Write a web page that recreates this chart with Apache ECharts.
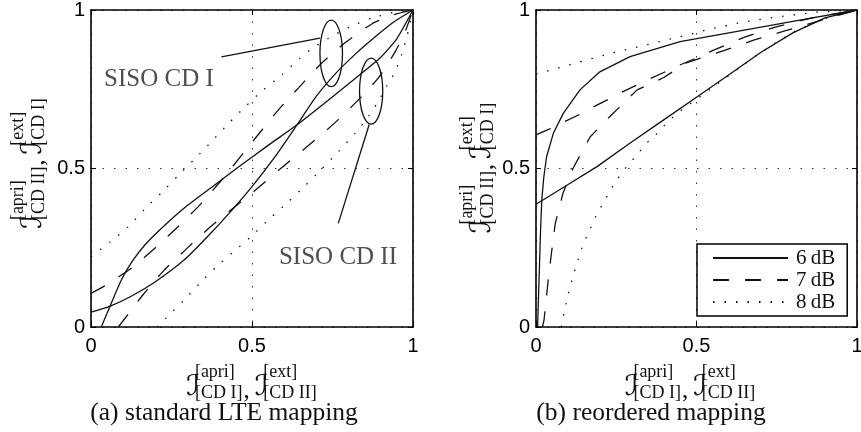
<!DOCTYPE html>
<html>
<head>
<meta charset="utf-8">
<script src="https://cdn.jsdelivr.net/npm/echarts@6/dist/echarts.min.js"></script>
<style>
  html, body { margin: 0; padding: 0; background: #fff; }
  #main { width: 861px; height: 432px; }
</style>
</head>
<body>
<div id="main"></div>
<script>
// legend entries (one line style per SNR)
const snrLabels = ['6\u2009dB', '7\u2009dB', '8\u2009dB'];

// (a) standard LTE mapping
// CD I curves: [I_apri CD I, I_ext CD I]
const stdCd1Db6 = [[0, 0.047], [0.06, 0.066], [0.125, 0.097], [0.2, 0.143], [0.29, 0.212], [0.36, 0.283], [0.43, 0.36], [0.5, 0.443], [0.57, 0.535], [0.64, 0.638], [0.7, 0.728], [0.76, 0.8], [0.82, 0.86], [0.88, 0.913], [0.94, 0.962], [1, 1]];
const stdCd1Db7 = [[0, 0.106], [0.04, 0.128], [0.125, 0.185], [0.2, 0.25], [0.27, 0.316], [0.336, 0.383], [0.41, 0.469], [0.517, 0.604], [0.582, 0.685], [0.646, 0.756], [0.716, 0.832], [0.791, 0.898], [0.872, 0.956], [0.94, 0.985], [1, 1]];
const stdCd1Db8 = [[0, 0.222], [0.058, 0.267], [0.115, 0.316], [0.167, 0.372], [0.22, 0.425], [0.27, 0.477], [0.324, 0.532], [0.376, 0.587], [0.428, 0.643], [0.479, 0.695], [0.535, 0.748], [0.592, 0.795], [0.649, 0.848], [0.68, 0.874], [0.738, 0.911], [0.804, 0.947], [0.872, 0.974], [0.949, 0.995], [1, 1]];
// CD II curves, axes swapped: [I_ext CD II, I_apri CD II]
const stdCd2Db6 = [[0.032, 0], [0.06, 0.068], [0.095, 0.15], [0.13, 0.21], [0.17, 0.262], [0.23, 0.322], [0.3, 0.384], [0.38, 0.445], [0.46, 0.506], [0.55, 0.573], [0.64, 0.638], [0.73, 0.71], [0.83, 0.792], [0.9, 0.851], [0.95, 0.91], [1, 1]];
const stdCd2Db7 = [[0.085, 0], [0.161, 0.101], [0.226, 0.178], [0.298, 0.248], [0.371, 0.316], [0.448, 0.38], [0.52, 0.44], [0.595, 0.505], [0.677, 0.574], [0.753, 0.64], [0.825, 0.711], [0.892, 0.785], [0.944, 0.867], [0.975, 0.93], [1, 1]];
const stdCd2Db8 = [[0.205, 0], [0.234, 0.029], [0.286, 0.082], [0.338, 0.138], [0.389, 0.19], [0.446, 0.24], [0.502, 0.29], [0.556, 0.343], [0.611, 0.393], [0.665, 0.446], [0.716, 0.498], [0.768, 0.553], [0.82, 0.611], [0.855, 0.655], [0.887, 0.703], [0.92, 0.763], [0.942, 0.8], [0.965, 0.86], [0.982, 0.92], [1, 1]];

// (b) reordered mapping
const reoCd1Db6 = [[0, 0.387], [0.09, 0.443], [0.19, 0.506], [0.29, 0.578], [0.4, 0.655], [0.5, 0.725], [0.6, 0.795], [0.7, 0.866], [0.8, 0.928], [0.9, 0.975], [1, 1]];
const reoCd1Db7 = [[0, 0.606], [0.043, 0.625], [0.089, 0.648], [0.131, 0.668], [0.178, 0.694], [0.219, 0.715], [0.266, 0.74], [0.307, 0.76], [0.354, 0.783], [0.396, 0.802], [0.447, 0.826], [0.503, 0.85], [0.559, 0.876], [0.652, 0.915], [0.748, 0.947], [0.86, 0.975], [1, 1]];
const reoCd1Db8 = [[0, 0.798], [0.037, 0.808], [0.146, 0.839], [0.255, 0.869], [0.364, 0.895], [0.474, 0.922], [0.542, 0.94], [0.651, 0.963], [0.765, 0.98], [0.874, 0.993], [1, 1]];
const reoCd2Db6 = [[0.005, 0], [0.008, 0.1], [0.011, 0.2], [0.014, 0.3], [0.018, 0.4], [0.024, 0.47], [0.033, 0.537], [0.054, 0.611], [0.085, 0.674], [0.137, 0.748], [0.199, 0.805], [0.293, 0.853], [0.449, 0.9], [0.822, 0.968], [1, 1]];
const reoCd2Db7 = [[0.02, 0], [0.025, 0.022], [0.037, 0.138], [0.048, 0.232], [0.06, 0.327], [0.084, 0.422], [0.115, 0.5], [0.169, 0.6], [0.235, 0.669], [0.315, 0.748], [0.398, 0.787], [0.468, 0.833], [0.585, 0.872], [0.678, 0.905], [0.775, 0.934], [0.88, 0.965], [1, 1]];
const reoCd2Db8 = [[0.079, 0], [0.086, 0.038], [0.094, 0.075], [0.102, 0.111], [0.112, 0.148], [0.122, 0.183], [0.134, 0.222], [0.146, 0.259], [0.16, 0.29], [0.175, 0.324], [0.191, 0.359], [0.211, 0.393], [0.229, 0.427], [0.248, 0.458], [0.269, 0.49], [0.292, 0.516], [0.318, 0.548], [0.344, 0.58], [0.37, 0.603], [0.396, 0.632], [0.422, 0.658], [0.45, 0.682], [0.5, 0.718], [0.55, 0.756], [0.61, 0.8], [0.67, 0.845], [0.74, 0.893], [0.81, 0.935], [0.88, 0.965], [0.94, 0.985], [1, 1]];

// annotations in panel (a): ellipses [cx, cy, rx, ry], leader lines, texts
const ellipseMarks = [[0.746, 0.863, 0.035, 0.105], [0.87, 0.744, 0.036, 0.104]];
const leaderCd1 = [[0.405, 0.852], [0.711, 0.911]];
const leaderCd2 = [[0.864, 0.639], [0.768, 0.327]];
const annotTexts = ['SISO CD I', 'SISO CD II'];
const annotPos = [[0.211, 0.782], [0.767, 0.218]];

const captions = ['(a) standard LTE mapping', '(b) reordered mapping'];
const xLabelTerms = [['[apri]', '[CD I]'], ['[ext]', '[CD II]']];
const yLabelTerms = [['[apri]', '[CD II]'], ['[ext]', '[CD I]']];

const INK = '#111';
const DASH = ['solid', [16, 16], [1.5, 10]];
const FONT_CAL = '29px "DejaVu Sans"';
const FONT_SCRIPT = '18px "Liberation Serif"';
const FONT_TEXT = '25px "Liberation Serif"';

const measureCtx = document.createElement('canvas').getContext('2d');
function textW(s, font) {
  measureCtx.font = font;
  return measureCtx.measureText(s).width;
}

function txt(s, x, y, font) {
  return { type: 'text', x: x, y: y, style: { text: s, font: font, fill: INK, verticalAlign: 'middle', align: 'left' } };
}

// I^{sup}_{sub}, I^{sup}_{sub} laid out around (0, 0)
function mathLabel(terms) {
  const kids = [];
  let x = 0;
  terms.forEach((t, i) => {
    if (i > 0) {
      kids.push(txt(',', x + 1, 4, FONT_TEXT));
      x += textW(',', FONT_TEXT) + 6;
    }
    kids.push(txt('\u2110', x, 0, FONT_CAL));
    const sx = x + textW('\u2110', FONT_CAL) - 5;
    kids.push(txt(t[0], sx, -15, FONT_SCRIPT));
    kids.push(txt(t[1], sx, 6, FONT_SCRIPT));
    x = sx + Math.max(textW(t[0], FONT_SCRIPT), textW(t[1], FONT_SCRIPT));
  });
  kids.forEach(k => { k.x -= x / 2; });
  return kids;
}

function curve(name, data, dash, g, smooth) {
  return {
    name: name,
    type: 'line',
    xAxisIndex: g,
    yAxisIndex: g,
    data: data,
    symbol: 'none',
    showSymbol: false,
    smooth: smooth,
    silent: true,
    z: 3,
    itemStyle: { color: INK },
    lineStyle: { color: INK, width: 1.3, type: dash }
  };
}

function plainLine(data) {
  return {
    type: 'line', xAxisIndex: 0, yAxisIndex: 0, data: data, symbol: 'none', silent: true, z: 4,
    lineStyle: { color: INK, width: 1.3 }
  };
}

const grids = [
  { left: 91, top: 10, width: 322, height: 317 },
  { left: 536, top: 10, width: 321, height: 317 }
];

function mainAxis(g, pos) {
  return {
    type: 'value', gridIndex: g, position: pos, min: 0, max: 1, interval: 0.5,
    axisLine: { show: true, onZero: false, lineStyle: { color: '#000', width: 1.6 } },
    axisTick: { show: true, inside: true, length: 5, lineStyle: { color: '#000', width: 1 } },
    axisLabel: {
      show: true, fontFamily: 'Liberation Sans', fontSize: 20, color: '#000',
      margin: pos === 'bottom' ? 9 : 6
    },
    splitLine: { show: true, lineStyle: { color: '#333', width: 1, type: [1.5, 10] } }
  };
}

function frameAxis(g, pos) {
  return {
    type: 'value', gridIndex: g, position: pos, min: 0, max: 1, interval: 0.5,
    axisLine: { show: true, onZero: false, lineStyle: { color: '#000', width: 1.6 } },
    axisTick: { show: true, inside: true, length: 5, lineStyle: { color: '#000', width: 1 } },
    axisLabel: { show: false },
    splitLine: { show: false }
  };
}

const graphics = [];
[[251.5, 387.5], [690, 387.5]].forEach(p => {
  graphics.push({ type: 'group', x: p[0], y: p[1], children: mathLabel(xLabelTerms) });
});
[[33, 163.5], [482, 168]].forEach(p => {
  graphics.push({ type: 'group', x: p[0], y: p[1], rotation: Math.PI / 2, children: mathLabel(yLabelTerms) });
});
[[224, 413], [651, 413]].forEach((p, i) => {
  graphics.push({
    type: 'text', x: p[0], y: p[1],
    style: { text: captions[i], font: '25.5px "Liberation Serif"', fill: INK, align: 'center', verticalAlign: 'middle' }
  });
});

const series = [
  curve(snrLabels[0], stdCd1Db6, DASH[0], 0, 0.2),
  curve(snrLabels[1], stdCd1Db7, DASH[1], 0, 0.2),
  curve(snrLabels[2], stdCd1Db8, DASH[2], 0, 0.2),
  curve(snrLabels[0], stdCd2Db6, DASH[0], 0, 0.2),
  curve(snrLabels[1], stdCd2Db7, DASH[1], 0, 0.2),
  curve(snrLabels[2], stdCd2Db8, DASH[2], 0, 0.2),
  curve(snrLabels[0], reoCd1Db6, DASH[0], 1, false),
  curve(snrLabels[1], reoCd1Db7, DASH[1], 1, false),
  curve(snrLabels[2], reoCd1Db8, DASH[2], 1, false),
  curve(snrLabels[0], reoCd2Db6, DASH[0], 1, false),
  curve(snrLabels[1], reoCd2Db7, DASH[1], 1, false),
  curve(snrLabels[2], reoCd2Db8, DASH[2], 1, false),
  plainLine(leaderCd1),
  plainLine(leaderCd2),
  {
    type: 'custom', xAxisIndex: 0, yAxisIndex: 0, data: ellipseMarks, silent: true, z: 4,
    renderItem: function (params, api) {
      const c = api.coord([api.value(0), api.value(1)]);
      const s = api.size([api.value(2), api.value(3)]);
      return {
        type: 'ellipse',
        shape: { cx: c[0], cy: c[1], rx: s[0], ry: s[1] },
        style: { fill: 'none', stroke: INK, lineWidth: 1.3 }
      };
    }
  },
  {
    type: 'scatter', xAxisIndex: 0, yAxisIndex: 0, symbolSize: 1, silent: true, z: 5,
    itemStyle: { color: 'rgba(0,0,0,0)' },
    data: annotPos.map((p, i) => ({ value: p, label: { formatter: annotTexts[i] } })),
    label: { show: true, position: 'inside', fontFamily: 'Liberation Serif', fontSize: 25, color: '#222' }
  }
];

const chart = echarts.init(document.getElementById('main'), null, { renderer: 'canvas' });
chart.setOption({
  animation: false,
  backgroundColor: '#fff',
  grid: grids.map(g => Object.assign({ outerBoundsMode: 'none', containLabel: false }, g)),
  xAxis: [mainAxis(0, 'bottom'), mainAxis(1, 'bottom'), frameAxis(0, 'top'), frameAxis(1, 'top')],
  yAxis: [mainAxis(0, 'left'), mainAxis(1, 'left'), frameAxis(0, 'right'), frameAxis(1, 'right')],
  legend: {
    data: snrLabels,
    orient: 'vertical',
    left: 697,
    top: 244,
    z: 10,
    itemWidth: 75,
    itemHeight: 14,
    itemGap: 0,
    padding: [3, 12, 3, 15],
    borderColor: '#000',
    borderWidth: 1.5,
    borderRadius: 0,
    backgroundColor: '#fff',
    selectedMode: false,
    itemStyle: { color: 'rgba(0,0,0,0)', borderColor: 'rgba(0,0,0,0)', borderWidth: 0, opacity: 0 },
    textStyle: { fontFamily: 'Liberation Serif', fontSize: 21, color: INK, lineHeight: 22, padding: [0, 0, 0, 3] }
  },
  graphic: graphics,
  series: series
});
</script>
</body>
</html>
